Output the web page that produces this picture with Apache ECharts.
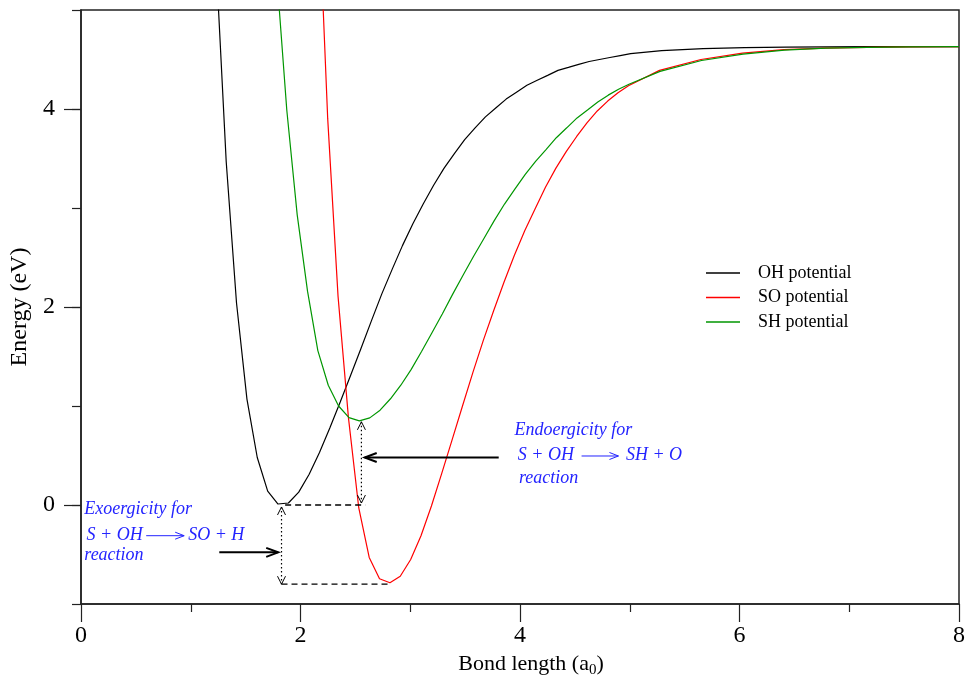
<!DOCTYPE html>
<html><head><meta charset="utf-8">
<script src="https://cdn.jsdelivr.net/npm/echarts@6/dist/echarts.min.js"></script>
<style>html,body{margin:0;padding:0;background:#fff}#c{width:966px;height:676px}</style>
</head><body><div id="c"></div>
<script>
// ---- data (bond length in a0, energy in eV) ----
const ohX = [1.134,1.228,1.323,1.417,1.512,1.606,1.701,1.795,1.890,1.984,2.079,2.173,2.268,2.362,2.457,2.551,2.646,2.740,2.835,2.929,3.024,3.118,3.213,3.307,3.402,3.496,3.591,3.685,3.779,3.874,3.968,4.063,4.157,4.252,4.346,4.441,4.535,4.630,4.724,4.819,4.913,5.008,5.291,5.669,6.047,6.425,6.803,7.181,7.559,8.0];
const ohE = [8.43,5.55,3.47,2.04,1.07,0.48,0.14,0.01,0.02,0.13,0.31,0.53,0.78,1.04,1.31,1.58,1.86,2.13,2.38,2.62,2.84,3.04,3.23,3.40,3.55,3.69,3.81,3.92,4.01,4.10,4.17,4.24,4.29,4.34,4.39,4.42,4.45,4.48,4.50,4.52,4.54,4.56,4.59,4.61,4.62,4.626,4.628,4.63,4.63,4.63];
const soX = [2.153,2.248,2.342,2.437,2.531,2.626,2.720,2.815,2.909,3.004,3.098,3.193,3.287,3.382,3.476,3.571,3.665,3.759,3.854,3.948,4.043,4.137,4.232,4.326,4.421,4.515,4.610,4.704,4.799,4.893,4.988,5.271,5.649,6.027,6.405,6.783,7.161,7.539,8.0];
const soE = [6.45,3.90,2.11,0.88,-0.03,-0.53,-0.745,-0.785,-0.72,-0.55,-0.31,-0.01,0.32,0.66,1.00,1.34,1.66,1.96,2.25,2.52,2.77,2.99,3.21,3.40,3.57,3.72,3.86,3.98,4.08,4.165,4.235,4.39,4.50,4.565,4.60,4.615,4.623,4.628,4.63];
const shX = [1.686,1.781,1.875,1.970,2.064,2.158,2.253,2.347,2.442,2.536,2.631,2.725,2.820,2.914,3.009,3.103,3.198,3.292,3.387,3.481,3.576,3.670,3.764,3.859,3.953,4.048,4.142,4.237,4.331,4.426,4.520,4.615,4.709,4.804,4.898,4.993,5.276,5.654,6.032,6.410,6.788,7.166,7.544,8.0];
const shE = [7.24,5.39,3.99,2.93,2.16,1.56,1.21,1.00,0.883,0.85,0.88,0.958,1.073,1.21,1.37,1.55,1.74,1.93,2.13,2.32,2.51,2.69,2.87,3.04,3.19,3.34,3.47,3.59,3.71,3.81,3.91,3.99,4.07,4.14,4.20,4.25,4.38,4.49,4.555,4.595,4.615,4.623,4.628,4.63];

const seriesNames = ['OH potential','SO potential','SH potential'];
const seriesColors = ['#000000','#ff0000','#009600'];
const xTickLabels = [0,2,4,6,8];
const yTickLabels = [0,2,4];

// annotation anchors in data coordinates
const dashedLines = [[[1.86,0],[2.59,0]], [[1.827,-0.80],[2.812,-0.80]]];
const dottedArrows = [[[1.827,-0.02],[1.827,-0.80]], [[2.555,0.84],[2.555,0.02]]];
const solidArrows = [[[1.26,-0.478],[1.797,-0.478]], [[3.806,0.48],[2.585,0.48]]];
const blueTexts = [
  {t:'Exoergicity for', p:[0.03,-0.04]},
  {t:'S + OH', p:[0.05,-0.31]},
  {t:'SO + H', p:[0.977,-0.31]},
  {t:'reaction', p:[0.03,-0.51]},
  {t:'Endoergicity for', p:[3.95,0.75]},
  {t:'S + OH', p:[3.98,0.505]},
  {t:'SH + O', p:[4.965,0.505]},
  {t:'reaction', p:[3.99,0.27]}
];
const blueArrows = [[[0.594,-0.31],[0.94,-0.31]], [[4.561,0.495],[4.897,0.495]]];

const FONT = '"Liberation Serif", "Times New Roman", serif';
const BLUE = '#2424ff';
const chart = echarts.init(document.getElementById('c'), null, {renderer:'canvas'});
function pairs(xs, ys){ return xs.map((x,i)=>[x, ys[i]]); }
const axisColor = '#222';

const option = {
  animation:false,
  backgroundColor:'#fff',
  grid:{left:81,right:7,top:10,bottom:72,containLabel:false,outerBoundsMode:'none',show:true,borderColor:axisColor,borderWidth:1.5,backgroundColor:'transparent'},
  legend:{
    orient:'vertical', left:701, top:259, icon:'rect', itemWidth:34, itemHeight:1.5, itemGap:6.5,
    textStyle:{fontFamily:FONT,fontSize:18,color:'#000',lineHeight:18,padding:[0,0,0,13]},
    data:seriesNames
  },
  xAxis:{
    type:'value', min:0, max:8, interval:2,
    axisLine:{show:true,onZero:false,lineStyle:{color:axisColor,width:1.5}},
    axisTick:{show:true,length:18,lineStyle:{color:axisColor,width:1.2}},
    minorTick:{show:true,splitNumber:2,length:8,lineStyle:{color:axisColor,width:1.2}},
    splitLine:{show:false},
    axisLabel:{fontFamily:FONT,fontSize:24,color:'#000',margin:20,customValues:xTickLabels},
    name:'{n|Bond length (a}{s|0}{n|)}', nameLocation:'middle', nameGap:46,
    nameTextStyle:{padding:[0,0,0,22],rich:{n:{fontFamily:FONT,fontSize:22,color:'#000'},s:{fontFamily:FONT,fontSize:15,color:'#000',padding:[12,0,0,0]}}}
  },
  yAxis:[{
    type:'value', min:-1, max:5, interval:1,
    axisLine:{show:true,onZero:false,lineStyle:{color:axisColor,width:1.5}},
    axisTick:{show:true,length:9,lineStyle:{color:axisColor,width:1.2}},
    splitLine:{show:false},
    axisLabel:{fontFamily:FONT,fontSize:24,color:'#000',margin:26,customValues:yTickLabels},
    name:'Energy (eV)', nameLocation:'middle', nameGap:47,
    nameTextStyle:{fontFamily:FONT,fontSize:24,color:'#000'}
  },{
    type:'value', min:-1, max:5, interval:1, position:'left',
    axisLine:{show:false},
    axisTick:{show:true,length:17,customValues:yTickLabels,lineStyle:{color:axisColor,width:1.2}},
    axisLabel:{show:false}, splitLine:{show:false}
  }],
  series:[
    {name:seriesNames[0],type:'line',data:pairs(ohX,ohE),showSymbol:false,symbol:'none',clip:true,color:seriesColors[0],lineStyle:{width:1.2,color:seriesColors[0]}},
    {name:seriesNames[1],type:'line',data:pairs(soX,soE),showSymbol:false,symbol:'none',clip:true,color:seriesColors[1],lineStyle:{width:1.2,color:seriesColors[1]}},
    {name:seriesNames[2],type:'line',data:pairs(shX,shE),showSymbol:false,symbol:'none',clip:true,color:seriesColors[2],lineStyle:{width:1.2,color:seriesColors[2]}}
  ]
};
chart.setOption(option);

function px(p){ return chart.convertToPixel({gridIndex:0}, p); }
const g = [];
function head(tip, from, len, half, color, w){
  const dx = tip[0]-from[0], dy = tip[1]-from[1];
  const L = Math.sqrt(dx*dx+dy*dy) || 1;
  const ux = dx/L, uy = dy/L;
  const bx = tip[0]-ux*len, by = tip[1]-uy*len;
  g.push({type:'polyline',silent:true,z:100,shape:{points:[[bx-uy*half,by+ux*half],tip,[bx+uy*half,by-ux*half]]},style:{stroke:color,lineWidth:w,fill:null}});
}
dashedLines.forEach(l=>{
  const a=px(l[0]), b=px(l[1]);
  g.push({type:'line',silent:true,z:100,shape:{x1:a[0],y1:a[1],x2:b[0],y2:b[1]},style:{stroke:'#000',lineWidth:1.3,lineDash:[6,4]}});
});
dottedArrows.forEach(l=>{
  const a=px(l[0]), b=px(l[1]);
  g.push({type:'line',silent:true,z:100,shape:{x1:a[0],y1:a[1],x2:b[0],y2:b[1]},style:{stroke:'#000',lineWidth:1.2,lineDash:[1.5,2.5]}});
  head(a,b,8,4,'#000',1); head(b,a,8,4,'#000',1);
});
solidArrows.forEach(l=>{
  const a=px(l[0]), b=px(l[1]);
  g.push({type:'line',silent:true,z:100,shape:{x1:a[0],y1:a[1],x2:b[0],y2:b[1]},style:{stroke:'#000',lineWidth:2}});
  head(b,a,12,4.5,'#000',2);
});
blueArrows.forEach(l=>{
  const a=px(l[0]), b=px(l[1]);
  g.push({type:'line',silent:true,z:100,shape:{x1:a[0],y1:a[1],x2:b[0],y2:b[1]},style:{stroke:BLUE,lineWidth:1}});
  head(b,a,9,3.5,BLUE,1);
});
blueTexts.forEach(o=>{
  const p=px(o.p);
  g.push({type:'text',silent:true,z:100,x:p[0],y:p[1],style:{text:o.t,font:'italic 18px '+FONT,fill:BLUE,align:'left',verticalAlign:'middle',textAlign:'left',textVerticalAlign:'middle'}});
});
chart.setOption({graphic:g});
</script></body></html>
